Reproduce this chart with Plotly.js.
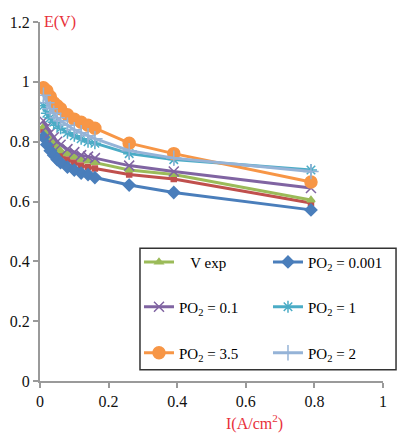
<!DOCTYPE html>
<html>
<head>
<meta charset="utf-8">
<script src="https://cdn.plot.ly/plotly-3.0.1.min.js"></script>
<style>html,body{margin:0;padding:0;background:#fff}#chart{width:408px;height:436px}</style>
</head>
<body>
<div id="chart"></div>
<script>
// Current density (A/cm2)
const current = [0.01,0.02,0.03,0.04,0.05,0.06,0.08,0.10,0.12,0.14,0.16,0.26,0.39,0.79];
// Cell voltage E (V)
const vExp    = [0.85,0.83,0.81,0.795,0.78,0.77,0.76,0.75,0.74,0.735,0.73,0.705,0.69,0.605];
const po2_0001= [0.815,0.79,0.77,0.755,0.74,0.73,0.715,0.705,0.695,0.69,0.68,0.655,0.63,0.572];
const po2_01  = [0.87,0.85,0.83,0.815,0.80,0.79,0.775,0.765,0.755,0.75,0.745,0.72,0.70,0.645];
const po2_1   = [0.92,0.895,0.88,0.865,0.855,0.845,0.83,0.82,0.81,0.80,0.795,0.76,0.74,0.705];
const po2_35  = [0.98,0.97,0.95,0.93,0.92,0.91,0.89,0.875,0.865,0.855,0.845,0.795,0.76,0.665];
const po2_2   = [0.955,0.93,0.91,0.895,0.88,0.87,0.855,0.84,0.83,0.82,0.81,0.77,0.745,0.70];
const redSeries=[0.84,0.815,0.795,0.78,0.765,0.755,0.74,0.73,0.72,0.715,0.71,0.69,0.675,0.595];
const seriesNames = ["&nbsp;&nbsp;&nbsp;V exp","PO<sub>2</sub> = 0.001","PO<sub>2</sub> = 0.1","PO<sub>2</sub> = 1","PO<sub>2</sub> = 3.5","PO<sub>2</sub> = 2"];
const xTicks = [0,0.2,0.4,0.6,0.8,1];
const yTicks = [0,0.2,0.4,0.6,0.8,1,1.2];

const SERIF = 'Times New Roman, Liberation Serif, DejaVu Serif, serif';
function tr(y, name, color, symbol, size, legend, show){
  return {x: current, y: y, name: name, type:'scatter', mode:'lines+markers',
    line:{color:color, width:3},
    marker:{color:color, symbol:symbol, size:size, line:{color:color, width:1.5}},
    legend: legend, showlegend: show};
}
const data = [
  tr(redSeries, "red", "#C0504D", "square", 5, "legend", false),
  tr(vExp, seriesNames[0], "#9BBB59", "triangle-up", 7, "legend", true),
  tr(po2_0001, seriesNames[1], "#4A7EBB", "diamond", 9, "legend", true),
  tr(po2_01, seriesNames[2], "#8064A2", "x-thin-open", 10, "legend2", true),
  tr(po2_1, seriesNames[3], "#4BACC6", "asterisk-open", 10, "legend2", true),
  tr(po2_35, seriesNames[4], "#F79646", "circle", 12, "legend3", true),
  tr(po2_2, seriesNames[5], "#95B3D7", "cross-thin-open", 11, "legend3", true)
];
const legBase = {orientation:'h', xanchor:'left', yanchor:'middle', x:0.2886,
  bgcolor:'rgba(0,0,0,0)', borderwidth:0, entrywidth:84, entrywidthmode:'pixels',
  font:{family:SERIF, size:15, color:'#000'}};
const layout = {
  width:408, height:436,
  margin:{l:40, r:25, t:22, b:55, autoexpand:false},
  paper_bgcolor:'#fff', plot_bgcolor:'#fff',
  font:{family:SERIF, size:15, color:'#000'},
  xaxis:{range:[0,1], tickvals:xTicks, ticktext:xTicks.map(String), showgrid:false, zeroline:false,
    showline:true, linecolor:'#9a9a9a', linewidth:2, ticks:'outside', tickcolor:'#9a9a9a', ticklen:5, tickwidth:2,
    tickfont:{family:SERIF, size:16, color:'#111'}},
  yaxis:{range:[0,1.2], tickvals:yTicks, ticktext:yTicks.map(String), showgrid:false, zeroline:false,
    showline:true, linecolor:'#9a9a9a', linewidth:2, ticks:'outside', tickcolor:'#9a9a9a', ticklen:5, tickwidth:2,
    tickfont:{family:SERIF, size:16, color:'#111'}},
  legend: Object.assign({}, legBase, {y:0.331}),
  legend2: Object.assign({}, legBase, {y:0.206}),
  legend3: Object.assign({}, legBase, {y:0.078}),
  shapes:[{type:'rect', xref:'paper', yref:'paper', x0:0.2915, x1:1.038, y0:0.031, y1:0.37,
    line:{color:'#333', width:1.5}, fillcolor:'rgba(0,0,0,0)'}],
  annotations:[
    {text:'E(V)', xref:'paper', yref:'paper', x:0.005, y:1.0, xanchor:'left', yanchor:'middle', showarrow:false,
     font:{family:SERIF, size:16, color:'#e8303a'}},
    {text:'I(A/cm<sup>2</sup>)', xref:'paper', yref:'paper', x:0.625, y:-0.115, xanchor:'center', yanchor:'middle', showarrow:false,
     font:{family:SERIF, size:16, color:'#e8303a'}}
  ]
};
Plotly.newPlot('chart', data, layout, {displayModeBar:false});
</script>
</body>
</html>
